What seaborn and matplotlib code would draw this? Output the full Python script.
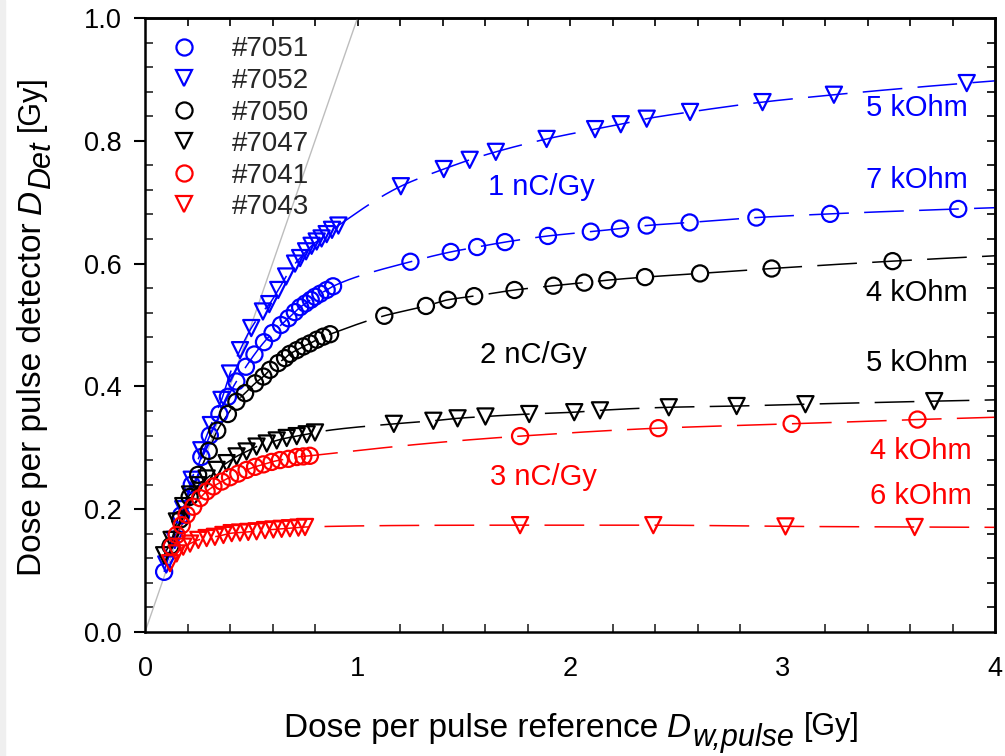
import numpy as np
import matplotlib
matplotlib.use("Agg")
import matplotlib.pyplot as plt
from matplotlib.lines import Line2D
from matplotlib.patches import Rectangle
from matplotlib.transforms import IdentityTransform
from matplotlib.ticker import MultipleLocator, FormatStrFormatter
import seaborn as sns

sns.set_theme(style="white")
plt.rcParams["font.family"] = ["Liberation Sans", "DejaVu Sans"]

# ---- measured dose per pulse: reference (x) vs detector (y), in Gy ----
x_7051 = [0.09, 0.125, 0.17, 0.22, 0.265, 0.305, 0.35, 0.39, 0.43, 0.475, 0.515,
          0.56, 0.60, 0.64, 0.675, 0.705, 0.73, 0.755, 0.78, 0.80, 0.825, 0.855,
          0.885, 1.249, 1.439, 1.563, 1.694, 1.896, 2.098, 2.235, 2.361, 2.563,
          2.877, 3.224, 3.827]
y_7051 = [0.098, 0.14, 0.19, 0.24, 0.285, 0.32, 0.355, 0.383, 0.408, 0.432, 0.452,
          0.472, 0.487, 0.500, 0.511, 0.521, 0.529, 0.535, 0.541, 0.546, 0.551, 0.557,
          0.563, 0.603, 0.619, 0.627, 0.635, 0.645, 0.652, 0.657, 0.662, 0.667,
          0.675, 0.681, 0.689]

x_7052 = [0.10, 0.14, 0.18, 0.22, 0.265, 0.31, 0.36, 0.40, 0.447, 0.50, 0.555,
          0.585, 0.627, 0.664, 0.706, 0.73, 0.758, 0.784, 0.808, 0.831, 0.855,
          0.88, 0.91, 1.204, 1.406, 1.528, 1.651, 1.890, 2.118, 2.239, 2.361,
          2.565, 2.906, 3.242, 3.867]
y_7052 = [0.11, 0.15, 0.20, 0.248, 0.296, 0.337, 0.378, 0.421, 0.459, 0.495, 0.522,
          0.534, 0.557, 0.579, 0.600, 0.609, 0.620, 0.629, 0.636, 0.641, 0.648,
          0.655, 0.662, 0.726, 0.754, 0.769, 0.782, 0.803, 0.819, 0.827, 0.836,
          0.847, 0.863, 0.875, 0.894]

x_7050 = [0.12, 0.165, 0.21, 0.25, 0.30, 0.34, 0.39, 0.43, 0.471, 0.518, 0.557,
          0.588, 0.627, 0.659, 0.682, 0.714, 0.745, 0.776, 0.808, 0.839, 0.871,
          1.126, 1.322, 1.425, 1.549, 1.739, 1.922, 2.067, 2.176, 2.353, 2.612,
          2.949, 3.518]
y_7050 = [0.14, 0.183, 0.22, 0.256, 0.295, 0.328, 0.355, 0.375, 0.389, 0.405, 0.416,
          0.427, 0.438, 0.446, 0.453, 0.459, 0.465, 0.470, 0.476, 0.481, 0.485,
          0.515, 0.531, 0.541, 0.547, 0.557, 0.564, 0.569, 0.573, 0.578, 0.584,
          0.592, 0.604]

x_7047 = [0.09, 0.125, 0.15, 0.18, 0.212, 0.251, 0.29, 0.337, 0.384, 0.431, 0.478,
          0.525, 0.573, 0.62, 0.667, 0.714, 0.761, 0.80, 1.171, 1.357, 1.471,
          1.602, 1.808, 2.020, 2.141, 2.465, 2.784, 3.108, 3.714]
y_7047 = [0.125, 0.15, 0.18, 0.205, 0.224, 0.239, 0.250, 0.264, 0.275, 0.286, 0.294,
          0.302, 0.307, 0.312, 0.316, 0.319, 0.322, 0.325, 0.339, 0.344, 0.348,
          0.351, 0.355, 0.358, 0.361, 0.366, 0.368, 0.371, 0.376]

x_7041 = [0.125, 0.149, 0.173, 0.196, 0.227, 0.259, 0.29, 0.322, 0.361, 0.40, 0.439,
          0.478, 0.518, 0.557, 0.596, 0.635, 0.675, 0.714, 0.745, 0.776, 1.765,
          2.416, 3.043, 3.635]
y_7041 = [0.139, 0.158, 0.174, 0.191, 0.204, 0.218, 0.229, 0.237, 0.245, 0.252, 0.258,
          0.264, 0.269, 0.273, 0.277, 0.280, 0.282, 0.285, 0.286, 0.287, 0.319,
          0.332, 0.339, 0.346]

x_7043 = [0.118, 0.149, 0.18, 0.212, 0.251, 0.29, 0.329, 0.369, 0.408, 0.447, 0.486,
          0.525, 0.565, 0.604, 0.643, 0.682, 0.722, 0.753, 1.765, 2.392, 3.014, 3.622]
y_7043 = [0.112, 0.128, 0.139, 0.144, 0.150, 0.153, 0.155, 0.158, 0.161, 0.162, 0.163,
          0.164, 0.166, 0.167, 0.168, 0.169, 0.170, 0.171, 0.174, 0.174, 0.172, 0.171]

labels = ["#7051", "#7052", "#7050", "#7047", "#7041", "#7043"]
xs = [x_7051, x_7052, x_7050, x_7047, x_7041, x_7043]
ys = [y_7051, y_7052, y_7050, y_7047, y_7041, y_7043]
colors = ["#0000ff", "#0000ff", "#000000", "#000000", "#ff0000", "#ff0000"]
markers = ["o", "v", "o", "v", "o", "v"]

identity_x = [0.0, 1.0]
identity_y = [0.0, 1.0]

annotations = [
    ("5 kOhm", 3.633, 0.853, "#0000ff"),
    ("7 kOhm", 3.633, 0.736, "#0000ff"),
    ("1 nC/Gy", 1.864, 0.725, "#0000ff"),
    ("4 kOhm", 3.633, 0.552, "#000000"),
    ("2 nC/Gy", 1.826, 0.451, "#000000"),
    ("5 kOhm", 3.633, 0.438, "#000000"),
    ("4 kOhm", 3.652, 0.295, "#ff0000"),
    ("3 nC/Gy", 1.873, 0.252, "#ff0000"),
    ("6 kOhm", 3.652, 0.221, "#ff0000"),
]


def pchip_curve(x, y, x_new):
    """Shape-preserving cubic Hermite curve through (x, y), in log-dose."""
    t = np.log(np.asarray(x, float))
    y = np.asarray(y, float)
    h = np.diff(t)
    delta = np.diff(y) / h
    d = np.zeros_like(y)
    for k in range(1, len(y) - 1):
        if delta[k - 1] * delta[k] > 0:
            w1 = 2 * h[k] + h[k - 1]
            w2 = h[k] + 2 * h[k - 1]
            d[k] = (w1 + w2) / (w1 / delta[k - 1] + w2 / delta[k])
    d[0] = delta[0]
    d[-1] = delta[-1]
    tn = np.log(x_new)
    out = np.empty_like(tn)
    for i, tv in enumerate(tn):
        if tv >= t[-1]:
            out[i] = y[-1] + d[-1] * (tv - t[-1])
            continue
        k = min(max(np.searchsorted(t, tv) - 1, 0), len(t) - 2)
        s = (tv - t[k]) / h[k]
        h00 = 2 * s**3 - 3 * s**2 + 1
        h10 = s**3 - 2 * s**2 + s
        h01 = -2 * s**3 + 3 * s**2
        h11 = s**3 - s**2
        out[i] = (h00 * y[k] + h10 * h[k] * d[k]
                  + h01 * y[k + 1] + h11 * h[k] * d[k + 1])
    return out


fig = plt.figure(figsize=(10.05, 7.56), dpi=100)
fig.patch.set_facecolor("white")
fig.patches.append(Rectangle((0, 0), 5 / 1005, 1, transform=fig.transFigure,
                             color="#efefef", zorder=-1))
ax = fig.add_axes([145 / 1005, 124 / 756, 850 / 1005, 614 / 756])
ax.set_facecolor("white")

# identity line D_det = D_ref
sns.lineplot(x=identity_x, y=identity_y, color="#bdbdbd", lw=1.0, ax=ax, zorder=1)

# response curve of each detector, then its measured points
for x, y, c in zip(xs, ys, colors):
    xf = np.geomspace(min(x), 4.0, 500)
    yf = pchip_curve(x, y, xf)
    sns.lineplot(x=xf, y=yf, color=c, lw=1.1, linestyle=(0, (26, 10)),
                 ax=ax, zorder=2)

for x, y, c, m in zip(xs, ys, colors, markers):
    sns.scatterplot(x=x, y=y, marker=m, s=135, facecolors="none",
                    edgecolor=c, linewidth=1.6, ax=ax, zorder=3)

for txt, tx, ty, c in annotations:
    ax.text(tx, ty, txt, color=c, fontsize=21, ha="center", va="center")

# axes ranges and ticks
ax.set_xlim(0, 4)
ax.set_ylim(0, 1.0)
ax.set_xticks([0, 1, 2, 3, 4])
ax.set_yticks(np.arange(0, 1.01, 0.2))
ax.yaxis.set_major_formatter(FormatStrFormatter("%.1f"))
ax.xaxis.set_minor_locator(MultipleLocator(0.2))
ax.yaxis.set_minor_locator(MultipleLocator(0.04))
ax.tick_params(axis="y", which="major", direction="out", length=8, width=1.5,
               labelsize=19.5, pad=9, colors="black", left=True)
ax.tick_params(axis="y", which="minor", direction="in", length=6, width=1.2,
               left=True)
ax.tick_params(axis="x", which="major", length=0, labelsize=19.5, pad=17,
               colors="black")
ax.tick_params(axis="x", which="minor", direction="in", length=6, width=1.2,
               bottom=True)

secx = ax.secondary_xaxis("top")
secx.set_xticks(np.arange(0.2, 3.9, 0.2))
secx.set_xticklabels([])
secx.tick_params(direction="in", length=6, width=1.2, colors="black")
secy = ax.secondary_yaxis("right")
secy.set_yticks(np.arange(0.04, 0.97, 0.04))
secy.set_yticklabels([])
secy.tick_params(direction="in", length=6, width=1.2, colors="black")
for s in list(secx.spines.values()) + list(secy.spines.values()):
    s.set_linewidth(1.8)
    s.set_color("black")
for s in ax.spines.values():
    s.set_linewidth(1.8)
    s.set_color("black")

handles = [Line2D([], [], linestyle="none", marker=m, markersize=11.6,
                  markerfacecolor="none", markeredgecolor=c, markeredgewidth=1.6)
           for c, m in zip(colors, markers)]
ax.legend(handles, labels, loc="upper left", bbox_to_anchor=(0.0294, 0.970),
          frameon=False, fontsize=20, handlelength=1.0, handletextpad=1.23,
          labelspacing=0.2, borderpad=0, borderaxespad=0)


# ---- axis titles built from pieces: text, italic symbol, subscript, unit ----
renderer = fig.canvas.get_renderer()
H = fig.bbox.height


def compound_label(pieces, center, baseline, vertical=False):
    """pieces: (text, size, style, baseline_shift_px, gap_before_px)."""
    objs, widths = [], []
    for s, size, style, shift, gap in pieces:
        t = fig.text(0, 0, s, fontsize=size, style=style, color="black",
                     transform=IdentityTransform(), ha="left", va="baseline",
                     rotation_mode="anchor")
        objs.append(t)
        widths.append(t.get_window_extent(renderer).width)
    total = sum(widths) + sum(p[4] for p in pieces)
    pos = center - total / 2
    for t, w, (s, size, style, shift, gap) in zip(objs, widths, pieces):
        pos += gap
        if vertical:
            t.set_rotation(90)
            t.set_position((baseline - shift, pos))
        else:
            t.set_position((pos, baseline + shift))
        pos += w


compound_label([("Dose per pulse reference", 24, "normal", 0, 0),
                ("D", 24, "italic", 0, 9),
                ("w,pulse", 22, "italic", -9, 1),
                ("[Gy]", 22, "normal", 2, 10)],
               center=572, baseline=H - 737)
compound_label([("Dose per pulse detector", 24, "normal", 0, 0),
                ("D", 24, "italic", 0, 9),
                ("Det", 22, "italic", -9, 1),
                ("[Gy]", 22, "normal", 2, 10)],
               center=H - 326, baseline=41, vertical=True)

fig.savefig("out.png", dpi=100)
